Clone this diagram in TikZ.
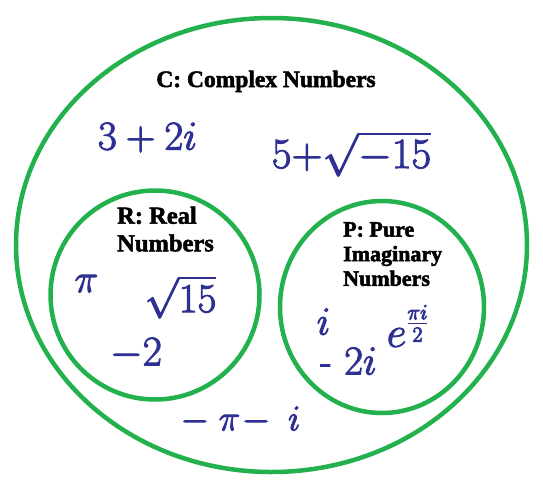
\RequirePackage{fix-cm}
\documentclass[tikz,border=0pt]{standalone}
\usepackage{fontspec}
\newfontfamily\lblfont{Liberation Serif}
\definecolor{venngreen}{RGB}{34,177,76}
\definecolor{mathblue}{RGB}{46,49,146}
\newcommand{\heavy}[2]{\special{pdf:literal direct #1 w 2 Tr}#2\special{pdf:literal direct 0 Tr}}
\newcommand{\fsz}[1]{\fontsize{#1}{1.2\dimexpr#1pt\relax}\selectfont}
\tikzset{
  ring/.style={draw=venngreen, line width=4.5pt},
  setlabel/.style={inner sep=0pt, text=black, align=left},
  mathitem/.style={inner sep=0pt, text=mathblue},
}
\begin{document}
\begin{tikzpicture}[x=1pt,y=-1pt]
\useasboundingbox (0,0) rectangle (543,490);
% sets
\draw[ring] (271.5,245) ellipse [x radius=255.5, y radius=227];
\draw[ring] (155,295) circle [radius=104.5];
\draw[ring] (382,307) ellipse [x radius=102, y radius=106];
% labels
\node[setlabel, anchor=base, font=\lblfont\bfseries\fontsize{23.5}{27}\selectfont] (labC) at (266,87) {\heavy{0.5}{C: Complex Numbers}};
\node[setlabel, anchor=north west, font=\lblfont\bfseries\fontsize{24.5}{27.6}\selectfont] (labR) at (117,206.5) {\heavy{0.5}{R: Real}\\\heavy{0.5}{Numbers}};
\node[setlabel, anchor=north west, font=\lblfont\bfseries\fontsize{22}{24.6}\selectfont] (labP) at (343,222) {\heavy{0.5}{P: Pure}\\\heavy{0.5}{Imaginary}\\\heavy{0.5}{Numbers}};
% complex numbers
\node[mathitem] (c1) at (147.5,137.5) {\fsz{41}\heavy{1}{$3+2i$}};
\node[mathitem] (c2) at (351.5,154) {\fsz{43}\heavy{1}{$5{+}\sqrt{-15}$}};
\node[mathitem] (c3) at (240.5,420) {\fsz{36}\heavy{1}{$-\;\pi\!-\;i$}};
% real numbers
\node[mathitem] (r1) at (86.5,283.5) {\fsz{40}\heavy{1}{$\pi$}};
\node[mathitem] (r2) at (180.5,297) {\fsz{41}\heavy{1}{$\sqrt{15}$}};
\node[mathitem] (r3) at (136,353.5) {\fsz{42}\heavy{1}{$-2$}};
% pure imaginary numbers
\node[mathitem] (p1) at (323.5,321.5) {\fsz{40}\heavy{1}{$i$}};
\node[mathitem] (p2dash) at (326,369) {\fsz{36}\heavy{1}{-}};
\node[mathitem] (p2) at (360.5,361) {\fsz{41}\heavy{1}{$2i$}};
\node[mathitem] (p3) at (408,326) {\fsz{43}\heavy{1}{$e^{\frac{\pi i}{2}}$}};
\end{tikzpicture}
\end{document}
